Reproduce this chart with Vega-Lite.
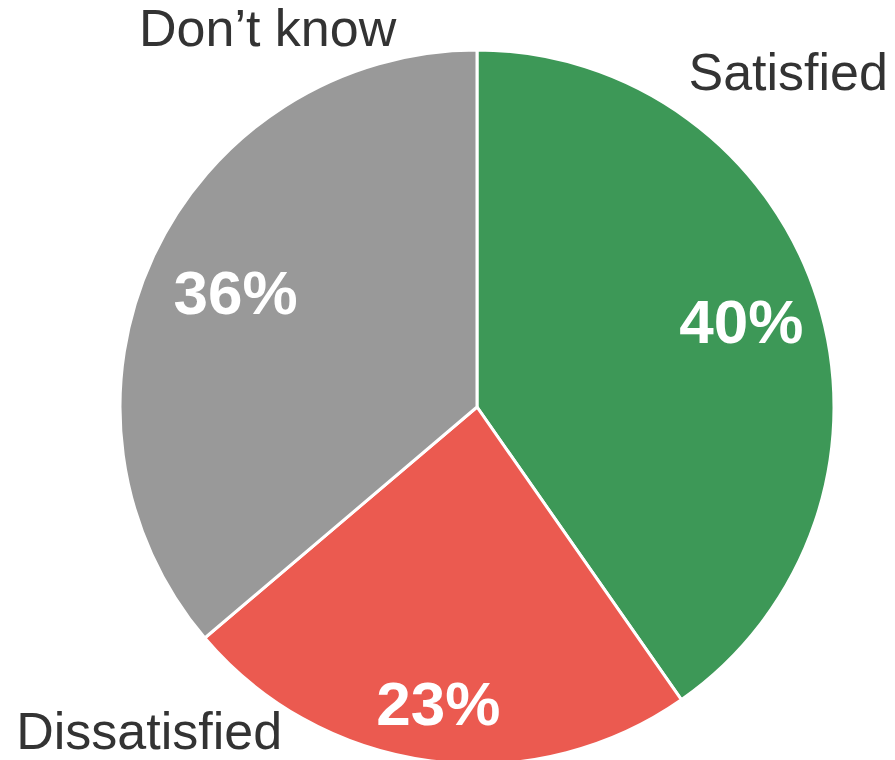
{
  "$schema": "https://vega.github.io/schema/vega-lite/v6.json",
  "width": 714,
  "height": 714,
  "autosize": {"type": "none"},
  "padding": {"left": 120, "top": 50, "right": 61, "bottom": 0},
  "background": "white",
  "view": {"stroke": null},
  "data": {
    "values": [
      {"category": "Satisfied", "value": 40.3, "label": "40%", "rank": 1},
      {"category": "Dissatisfied", "value": 23.5, "label": "23%", "rank": 2},
      {"category": "Don’t know", "value": 36.2, "label": "36%", "rank": 3}
    ]
  },
  "encoding": {
    "theta": {"field": "value", "type": "quantitative", "stack": true},
    "order": {"field": "rank", "type": "quantitative"}
  },
  "layer": [
    {
      "mark": {"type": "arc", "outerRadius": 357, "stroke": "white", "strokeWidth": 3},
      "encoding": {
        "color": {
          "field": "category",
          "type": "nominal",
          "scale": {"domain": ["Satisfied", "Dissatisfied", "Don’t know"], "range": ["#3d9857", "#eb5a50", "#999999"]},
          "legend": null
        }
      }
    },
    {
      "mark": {
        "type": "text",
        "radius": {"expr": "datum.category == 'Satisfied' ? 277 : datum.category == 'Dissatisfied' ? 301 : 266"},
        "font": "Liberation Sans",
        "fontSize": 62,
        "fontWeight": "bold",
        "align": "center",
        "baseline": "middle"
      },
      "encoding": {"text": {"field": "label"}, "color": {"value": "white"}}
    },
    {
      "mark": {
        "type": "text",
        "radius": {"expr": "datum.category == 'Satisfied' ? 456 : datum.category == 'Dissatisfied' ? 462 : 431"},
        "thetaOffset": {"expr": "datum.category == 'Satisfied' ? -0.515 : datum.category == 'Dissatisfied' ? 0.66 : 0.63"},
        "font": "Liberation Sans",
        "fontSize": 52,
        "align": "center",
        "baseline": "middle"
      },
      "encoding": {"text": {"field": "category"}, "color": {"value": "#333333"}}
    }
  ]
}
